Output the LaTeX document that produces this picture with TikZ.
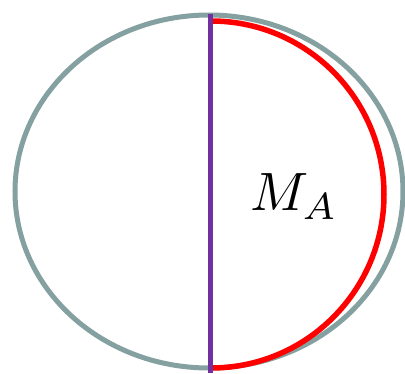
\documentclass[tikz,border=0pt]{standalone}
\begin{document}
\begin{tikzpicture}[x=1pt,y=1pt,
  grayline/.style={draw={rgb,255:red,132;green,160;blue,160}, line width=5pt},
  redline/.style={draw=red, line width=5.5pt},
  purpleline/.style={draw={rgb,255:red,112;green,48;blue,160}, line width=5pt}]
\useasboundingbox (0,0) rectangle (405,373);
\draw[grayline] (209,181.5) ellipse [x radius=194, y radius=176.5];
\coordinate (rtop) at (211,352);
\draw[redline] (rtop) arc [start angle=90, end angle=-90, x radius=173, y radius=173.5];
\coordinate (ptop) at (210,359);
\coordinate (pbot) at (210,0);
\draw[purpleline] (ptop) -- (pbot);
\node[anchor=base west, inner sep=0pt] (label) at (250,162) {\scalebox{5.4}{$M_A$}};
\end{tikzpicture}
\end{document}
